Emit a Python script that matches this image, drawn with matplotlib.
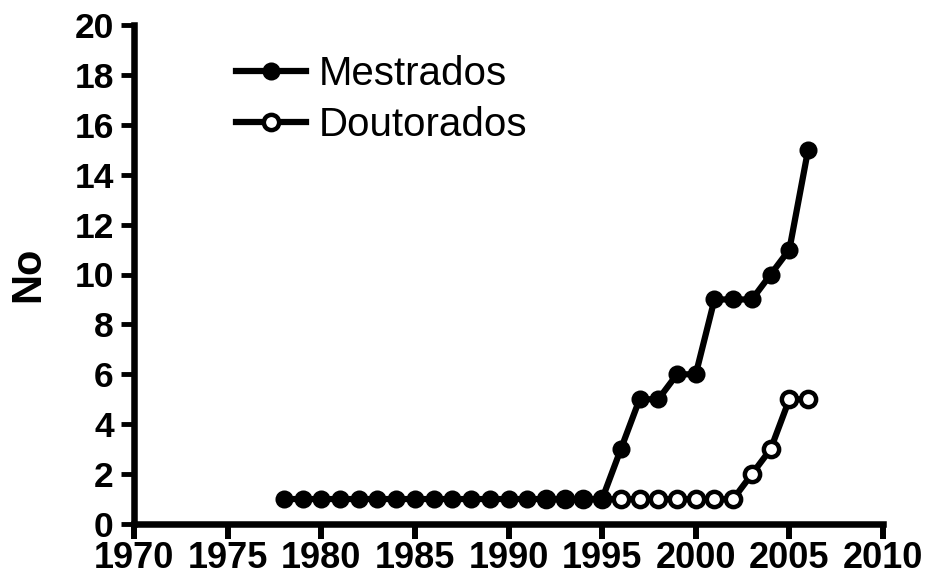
import numpy as np
import matplotlib.pyplot as plt

plt.rcParams['font.family'] = ['Liberation Sans', 'DejaVu Sans']

# data
anos_m = list(range(1978, 2007))
mestrados = [1] * 18 + [3, 5, 5, 6, 6, 9, 9, 9, 10, 11, 15]

anos_d = list(range(1992, 2007))
doutorados = [1] * 11 + [2, 3, 5, 5]

xticks = [1970, 1975, 1980, 1985, 1990, 1995, 2000, 2005, 2010]
yticks = [0, 2, 4, 6, 8, 10, 12, 14, 16, 18, 20]

fig = plt.figure(figsize=(9.27, 5.82), dpi=100)
ax = fig.add_axes([134/927, 58/582, 749/927, 499/582])

lw = 4.5
ax.plot(anos_d, doutorados, color='black', lw=lw, marker='o', ms=11,
        mfc='white', mec='black', mew=3.2, clip_on=False, label='Doutorados', zorder=3)
ax.plot(anos_m, mestrados, color='black', lw=lw, marker='o', ms=10.5,
        mfc='black', mec='black', mew=2.5, clip_on=False, label='Mestrados', zorder=4)

ax.set_xlim(1970, 2010)
ax.set_ylim(0, 20)
ax.set_xticks(xticks)
ax.set_yticks(yticks)

for s in ['top', 'right']:
    ax.spines[s].set_visible(False)
for s in ['left', 'bottom']:
    ax.spines[s].set_linewidth(4.7)
    ax.spines[s].set_capstyle('projecting')

ax.tick_params(axis='x', length=10.5, width=4.3, pad=2, labelsize=26)
ax.tick_params(axis='y', length=9.5, width=3.5, pad=5, labelsize=25.5)
for lab in ax.get_xticklabels() + ax.get_yticklabels():
    lab.set_fontweight('bold')

ax.set_ylabel('No', fontsize=30, fontweight='bold')
ax.yaxis.set_label_coords(-0.115, 0.5)

h, l = ax.get_legend_handles_labels()
leg = ax.legend(h[::-1], l[::-1], loc='upper left', bbox_to_anchor=(0.136, 0.94),
                frameon=False, fontsize=29, handlelength=1.75, handletextpad=0.3,
                borderpad=0, borderaxespad=0, labelspacing=0.33)

fig.savefig('out.png', dpi=100)
